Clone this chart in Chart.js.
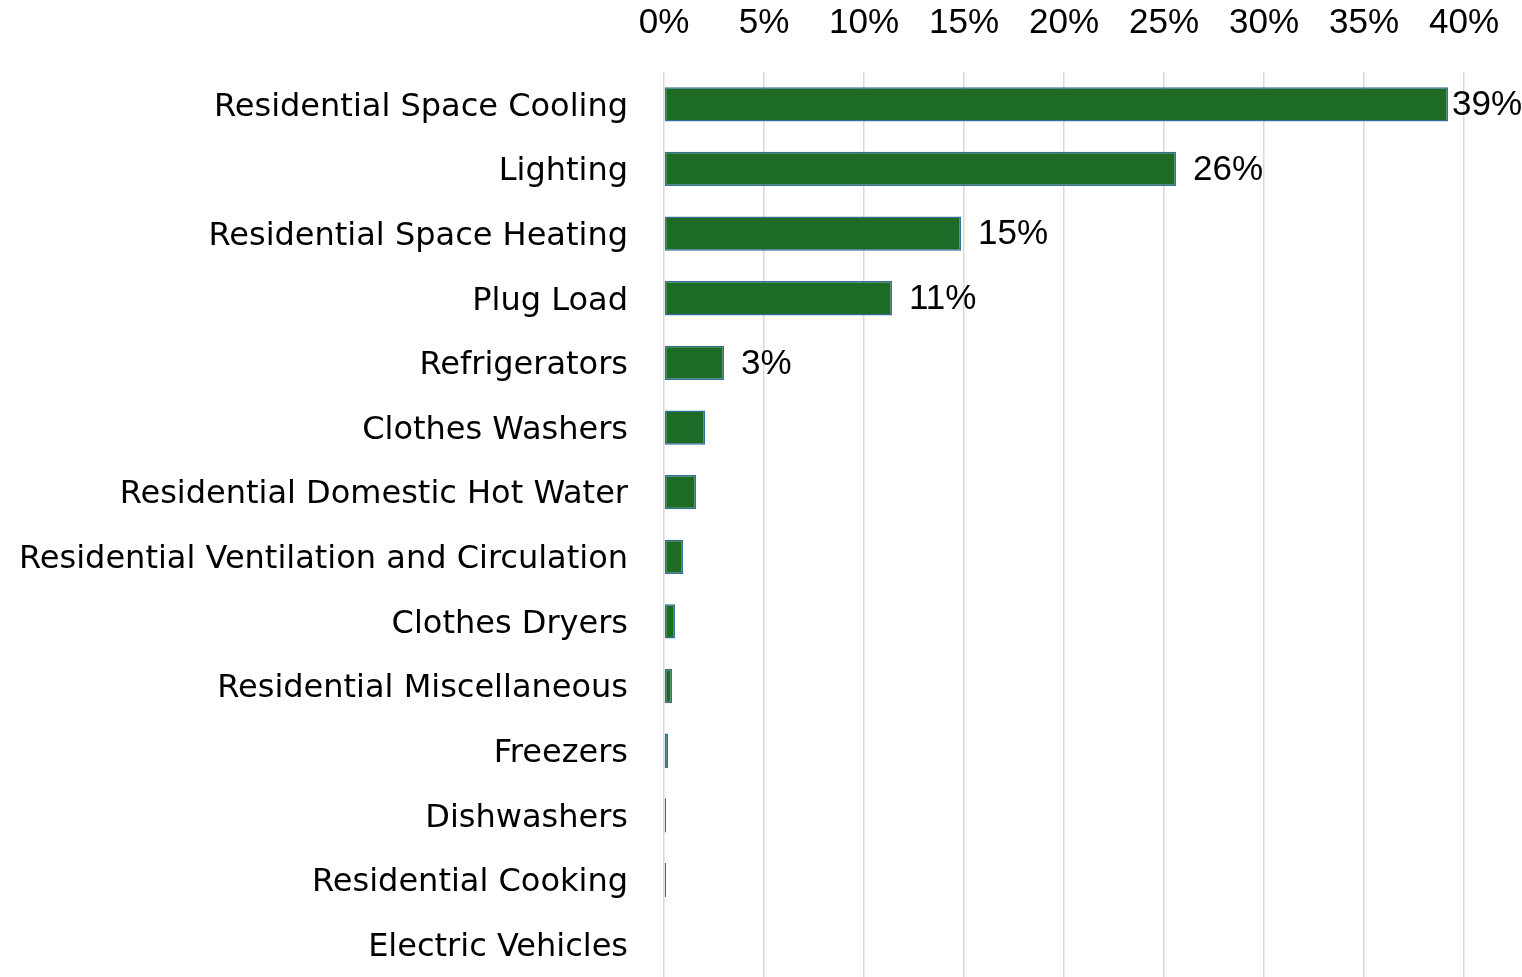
<!DOCTYPE html>
<html>
<head>
<meta charset="utf-8">
<script src="https://cdn.jsdelivr.net/npm/chart.js@4.4.1/dist/chart.umd.min.js"></script>
<style>
  html, body { margin: 0; padding: 0; background: #fff; }
  #wrap { width: 1522px; height: 977px; }
</style>
</head>
<body>
<div id="wrap"><canvas id="endUseChart" width="1522" height="977"></canvas></div>
<script>
// electricity end-use shares (percent of total)
const categories = [
    "Residential Space Cooling",
    "Lighting",
    "Residential Space Heating",
    "Plug Load",
    "Refrigerators",
    "Clothes Washers",
    "Residential Domestic Hot Water",
    "Residential Ventilation and Circulation",
    "Clothes Dryers",
    "Residential Miscellaneous",
    "Freezers",
    "Dishwashers",
    "Residential Cooking",
    "Electric Vehicles"
];
const shares = [39.2, 25.6, 14.85, 11.4, 3.0, 2.05, 1.6, 0.95, 0.55, 0.4, 0.2, 0.1, 0.1, 0];
const tickValues = [0, 5, 10, 15, 20, 25, 30, 35, 40];

// only the larger shares get a value label
const labelMin = 2.5;

const tickFont = { family: "'Liberation Sans', Arial, sans-serif", size: 35 };
const catFont = { family: "'DejaVu Sans', sans-serif", size: 32 };

const valueLabels = {
    id: "valueLabels",
    afterDatasetsDraw(chart) {
        const ctx = chart.ctx;
        const meta = chart.getDatasetMeta(0);
        ctx.save();
        ctx.font = tickFont.size + "px " + tickFont.family;
        ctx.fillStyle = "#000";
        ctx.textBaseline = "middle";
        ctx.textAlign = "left";
        meta.data.forEach((bar, i) => {
            const v = shares[i];
            if (v < labelMin) return;
            const text = v.toFixed(0) + "%";
            const w = ctx.measureText(text).width;
            let x = bar.x + 17;
            // keep the label inside the canvas
            if (x + w > chart.width) x = chart.width - w;
            ctx.fillText(text, x, bar.y + 1);
        });
        ctx.restore();
    }
};

new Chart(document.getElementById("endUseChart"), {
    type: "bar",
    data: {
        labels: categories,
        datasets: [{
            data: shares,
            backgroundColor: "#1d6b25",
            borderColor: "#34709a",
            borderWidth: 1.5,
            borderSkipped: false,
            categoryPercentage: 1,
            barPercentage: 0.53
        }]
    },
    options: {
        indexAxis: "y",
        responsive: false,
        animation: false,
        devicePixelRatio: 1,
        layout: { padding: { right: 58, bottom: 0, top: 0, left: 0 } },
        plugins: {
            legend: { display: false },
            tooltip: { enabled: false }
        },
        scales: {
            x: {
                position: "top",
                min: 0,
                max: 40,
                afterBuildTicks(scale) {
                    scale.ticks = tickValues.map(v => ({ value: v }));
                },
                afterFit(scale) {
                    scale.height = 72;
                    // layout padding already leaves room for the end labels
                    scale.paddingLeft = 0;
                    scale.paddingRight = 0;
                },
                ticks: {
                    font: tickFont,
                    color: "#000",
                    padding: 28,
                    callback: v => v + "%"
                },
                grid: {
                    color: "#d9d9d9",
                    lineWidth: 1.5,
                    drawTicks: false
                },
                border: { display: false }
            },
            y: {
                afterFit(scale) {
                    scale.width = 664;
                    // tick padding would otherwise push the plot up from the bottom edge
                    scale.paddingTop = 0;
                    scale.paddingBottom = 0;
                },
                ticks: {
                    font: catFont,
                    color: "#000",
                    padding: 36,
                    labelOffset: 3
                },
                grid: { display: false, drawTicks: false },
                border: { display: false }
            }
        }
    },
    plugins: [valueLabels]
});
</script>
</body>
</html>
